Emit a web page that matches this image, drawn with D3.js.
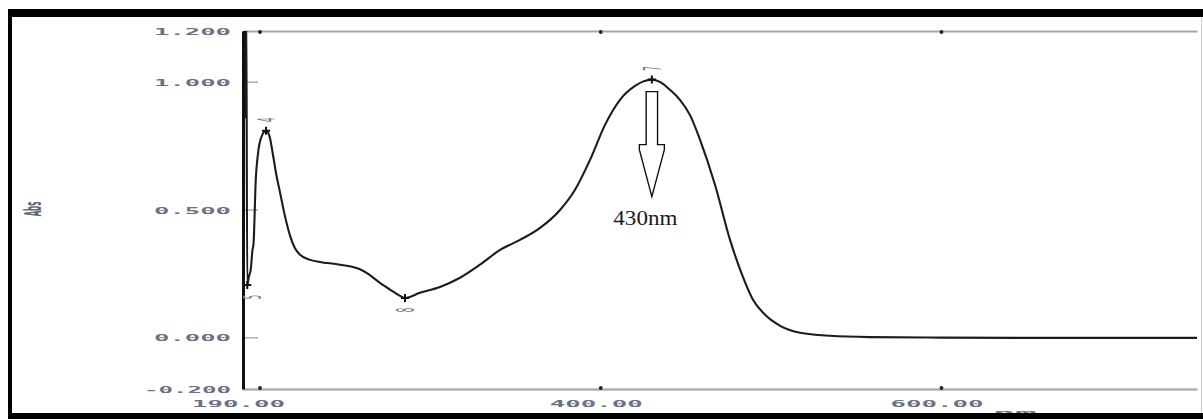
<!DOCTYPE html>
<html>
<head>
<meta charset="utf-8">
<script src="https://cdn.jsdelivr.net/npm/d3@7"></script>
<style>
  body { margin: 0; background: #fff; }
  svg { display: block; }
</style>
</head>
<body>
<svg id="chart" width="1203" height="419"></svg>
<script>
// Absorption spectrum (nm vs Abs)
const wavelength = [
  190.0, 190.7, 191.3, 191.9, 192.5, 193.5, 194.6, 195.5, 196.2, 197.5,
  198.8, 200.5, 203.5, 205.5, 207.5, 209.5, 211.7, 214.5, 217.6, 220.5,
  223.5, 229.3, 235.2, 246.9, 258.7, 264.5, 270.4, 276.0, 282.2, 285.1,
  293.9, 305.6, 317.4, 329.1, 340.9, 352.6, 364.4, 376.1, 384.9, 393.7,
  402.5, 411.3, 420.1, 425.0, 430.0, 435.0, 440.6, 446.5, 452.5, 458.3,
  467.1, 475.9, 483.0, 488.8, 496.5, 505.3, 517.0, 534.6, 558.0, 600.0,
  650.0, 750.0
];
const absorbance = [
  0.850, 1.320, 0.860, 1.320, 0.207, 0.240, 0.270, 0.340, 0.370, 0.620,
  0.720, 0.780, 0.810, 0.790, 0.720, 0.640, 0.570, 0.480, 0.400, 0.350,
  0.325, 0.305, 0.297, 0.286, 0.268, 0.245, 0.215, 0.190, 0.164, 0.156,
  0.176, 0.199, 0.235, 0.286, 0.344, 0.383, 0.430, 0.500, 0.579, 0.696,
  0.833, 0.931, 0.985, 1.003, 1.010, 1.000, 0.970, 0.931, 0.870, 0.774,
  0.598, 0.383, 0.246, 0.156, 0.090, 0.047, 0.020, 0.008, 0.003, 0.001,
  0.000, 0.000
];

// Axis ticks
const yTickValues = [-0.2, 0.0, 0.5, 1.0, 1.2];
const yInnerTicks = [0.0, 0.5, 1.0];
const xTickValues = [190, 400, 600];
const xDotTicks = [200, 400, 600];

// Peak / valley picks
const pickNm = [192.5, 203.5, 285.1, 430.0];
const pickAbs = [0.207, 0.810, 0.156, 1.010];
const pickNo = ["5", "4", "8", "7"];
const pickSide = ["below", "above", "below", "above"];

// Annotated maximum
const markedNm = 430;
const markedAbs = 1.010;
const markedText = "430nm";

const svg = d3.select("#chart");
const W = 1203, H = 419;

const x = d3.scaleLinear().domain([190, 750]).range([243, 1197]);
const y = d3.scaleLinear().domain([-0.2, 1.2]).range([389, 31]);

const tickFont = "'DejaVu Sans Mono', monospace";
const tickColor = "#6b7283";

svg.append("rect").attr("width", W).attr("height", H).attr("fill", "#fff");

// clip for the spectrum trace
svg.append("defs").append("clipPath").attr("id", "plotClip")
  .append("rect")
  .attr("x", x.range()[0]).attr("y", y.range()[1])
  .attr("width", x.range()[1] - x.range()[0])
  .attr("height", y.range()[0] - y.range()[1]);

// top frame line
const topAxis = svg.append("g")
  .attr("transform", `translate(0,${y(1.2)})`)
  .call(d3.axisTop(x).tickValues([]).tickSizeOuter(0));
topAxis.select(".domain").attr("stroke", "#a8a8a8").attr("stroke-width", 2);

// bottom x axis
const xAxis = svg.append("g")
  .attr("transform", `translate(0,${y(-0.2)})`)
  .call(d3.axisBottom(x).tickValues(xTickValues).tickSize(0).tickSizeOuter(0)
    .tickPadding(11).tickFormat(d => d.toFixed(2)));
xAxis.select(".domain").attr("stroke", "#b0b0b0").attr("stroke-width", 2.5);
xAxis.selectAll(".tick text")
  .attr("font-family", tickFont).attr("font-size", 9.5)
  .attr("font-weight", "bold")
  .attr("fill", tickColor)
  .attr("dx", -5)
  .attr("textLength", d => d.toFixed(2).length * 15.5)
  .attr("lengthAdjust", "spacingAndGlyphs");

// tick dots on top and bottom lines
[1.2, -0.2].forEach(v => {
  svg.append("g").selectAll("circle").data(xDotTicks).join("circle")
    .attr("cx", d => x(d)).attr("cy", y(v) + (v > 0 ? 1 : -1))
    .attr("r", 1.9).attr("fill", "#222");
});

// inner tick marks on the y axis
svg.append("g").selectAll("line").data(yInnerTicks).join("line")
  .attr("x1", x(190) + 2).attr("x2", x(190) + 15)
  .attr("y1", d => y(d)).attr("y2", d => y(d))
  .attr("stroke", "#9a9a9a").attr("stroke-width", 1.2);

// spectrum
const line = d3.line()
  .x((d, i) => x(wavelength[i]))
  .y((d, i) => y(absorbance[i]))
  .curve(d3.curveMonotoneX);

svg.append("path")
  .datum(absorbance)
  .attr("clip-path", "url(#plotClip)")
  .attr("d", line)
  .attr("fill", "none")
  .attr("stroke", "#1c1c1c")
  .attr("stroke-width", 2.1)
  .attr("stroke-linejoin", "round");

// y axis
const yAxis = svg.append("g")
  .attr("transform", `translate(${x(190)},0)`)
  .call(d3.axisLeft(y).tickValues(yTickValues).tickSize(0).tickSizeOuter(0)
    .tickPadding(12).tickFormat(d => d.toFixed(3)));
yAxis.select(".domain").attr("stroke", "#111").attr("stroke-width", 3);
yAxis.selectAll(".tick text")
  .attr("font-family", tickFont).attr("font-size", 9.5)
  .attr("font-weight", "bold")
  .attr("fill", tickColor)
  .attr("textLength", d => d.toFixed(3).length === 5 ? 77 : 87)
  .attr("lengthAdjust", "spacingAndGlyphs");

// peak / valley markers with their pick numbers
const picks = svg.append("g");
pickNm.forEach((nm, i) => {
  const px = x(nm), py = y(pickAbs[i]);
  picks.append("path")
    .attr("d", `M${px - 4},${py}H${px + 4}M${px},${py - 4}V${py + 4}`)
    .attr("stroke", "#111").attr("stroke-width", 2);
  const ly = pickSide[i] === "above" ? py - 11 : py + 12;
  picks.append("text")
    .attr("transform", `translate(${px + (i === 0 ? 5 : 0)},${ly}) scale(3.6,1) rotate(-90)`)
    .attr("text-anchor", "middle")
    .attr("dy", "0.35em")
    .attr("font-family", "'DejaVu Sans', sans-serif")
    .attr("font-size", 7)
    .attr("fill", "#8c6f80")
    .text(pickNo[i]);
});

// hollow arrow pointing at the 430 nm maximum
const ax = x(markedNm);
const aTop = y(markedAbs) + 12;
const arrowPts = [
  [ax - 5.7, aTop], [ax + 5.7, aTop], [ax + 5.7, aTop + 53],
  [ax + 12.5, aTop + 53], [ax + 12.5, aTop + 58], [ax, aTop + 105],
  [ax - 12.5, aTop + 58], [ax - 12.5, aTop + 53], [ax - 5.7, aTop + 53]
];
svg.append("path")
  .attr("d", d3.line()(arrowPts) + "Z")
  .attr("fill", "#fff").attr("stroke", "#111").attr("stroke-width", 1.4);

svg.append("text")
  .attr("x", ax - 6.5).attr("y", aTop + 133)
  .attr("text-anchor", "middle")
  .attr("font-family", "'Liberation Serif', 'Times New Roman', serif")
  .attr("font-size", 20)
  .attr("fill", "#1a1a1a")
  .attr("textLength", 64).attr("lengthAdjust", "spacingAndGlyphs")
  .text(markedText);

// axis titles
svg.append("text")
  .attr("transform", "translate(33,209) scale(3.2,1) rotate(-90)")
  .attr("text-anchor", "middle").attr("dy", "0.35em")
  .attr("font-family", "'DejaVu Sans', sans-serif").attr("font-size", 7)
  .attr("font-weight", "bold")
  .attr("fill", "#5a6070")
  .text("Abs");

svg.append("text")
  .attr("x", 1015).attr("y", 416)
  .attr("text-anchor", "middle")
  .attr("font-family", tickFont).attr("font-size", 9.5)
  .attr("font-weight", "bold")
  .attr("fill", tickColor)
  .attr("textLength", 44).attr("lengthAdjust", "spacingAndGlyphs")
  .text("nm");

// outer frame
const frame = svg.append("g").attr("fill", "#000");
frame.append("rect").attr("x", 8).attr("y", 9).attr("width", W - 8).attr("height", 8);
frame.append("rect").attr("x", 8).attr("y", 9).attr("width", 4).attr("height", H - 9);
frame.append("rect").attr("x", 8).attr("y", 413).attr("width", W - 8).attr("height", 6);
svg.append("line").attr("x1", 1201.5).attr("x2", 1201.5).attr("y1", 17).attr("y2", 413)
  .attr("stroke", "#d0d0d0").attr("stroke-width", 1);
</script>
</body>
</html>
